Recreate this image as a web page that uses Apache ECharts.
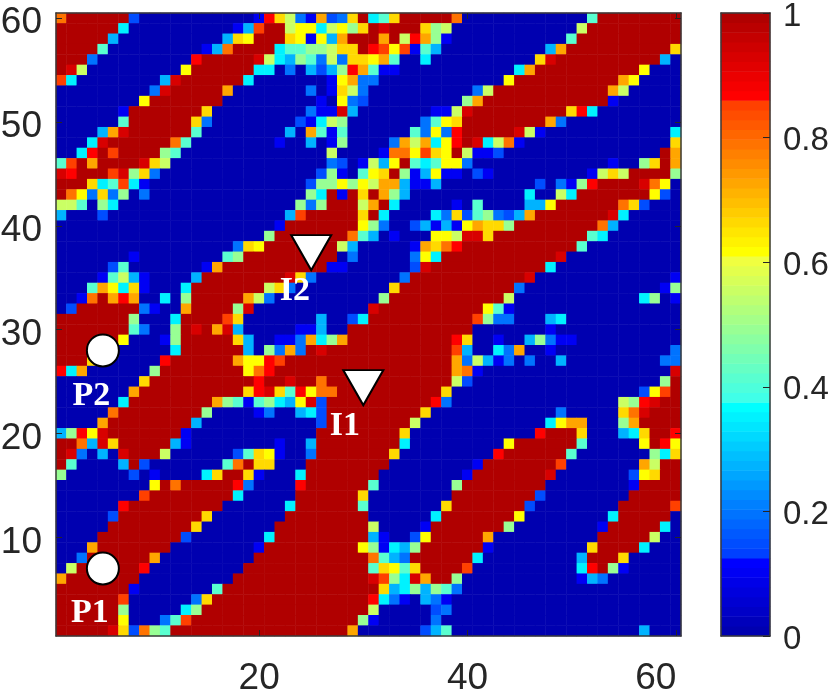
<!DOCTYPE html>
<html lang="en">
<head>
    <meta charset="UTF-8">
    <title>heatmap</title>
    <style>
        html, body { margin: 0; padding: 0; background: #fff; }
        #chart { width: 830px; height: 692px; }
    </style>
    <script src="https://cdn.jsdelivr.net/npm/echarts@6/dist/echarts.min.js"></script>
</head>
<body>
    <div id="chart"></div>
    <script>
        // cell values, one letter per colour step
        var levelValues = {
            a: 0.01, b: 0.1, c: 0.15, d: 0.2, e: 0.27, f: 0.35, g: 0.41, h: 0.49, i: 0.55,
            j: 0.62, k: 0.66, l: 0.73, m: 0.79, n: 0.85, o: 0.87, p: 0.93, q: 1
        };

        // top row (y = 60) first, run length coded: q6 = six cells of q
        var cellRows = [
            "m q6 c a11 b o k i d b l c d k q f g k q5 m a12 g q8",
            "q6 f a10 b e n q2 i j j f i j h k q p q3 k h i a12 i q9",
            "q5 e a10 e k j q3 k j b j e l q3 l q i o l h b a11 g q10",
            "q4 g a9 b e m q4 f g g h h i k k q o n j n b g e a10 e l q10 k",
            "q3 d a9 o q5 p i f e h g d i d k k j l g a2 f a10 k p q10 e a",
            "q p i a9 j q6 f f a d a e c e h o l g b b a11 f l q10 j a3",
            "n f a8 e p q6 f a7 b j l d d a12 j q10 l j a4",
            "a9 d p q5 l a7 d a b k i d a10 d i q11 l i a5",
            "a8 j q7 a9 b a j d c a9 h l q12 b a6",
            "a6 b q7 k a9 d b b p e a7 b b i p q9 k o f a8",
            "a6 g q6 k d a8 c b f i h a7 d g j k q8 l d a11",
            "a4 e l p q6 g a8 e a l g b g a6 g d j d o q5 p i b a12 f",
            "a3 f p q6 m g a8 b a2 e a b h a4 d l i l f j o q p f i m b a14 k",
            "a2 f o q n q4 h g a14 i a4 b m m j n k j q i b b c a15 q l",
            "g n q l q4 p k i a15 d c a b i e j q g f g j j d a13 b a2 h k q l",
            "p o q3 n p h k d a15 c h b a g j k q h b e j b b a c b a9 b i k i q4 h",
            "q3 k f g n f b a15 c h h j h j i l l e b b e a9 c a d b h o q4 p m j a",
            "q m j d k d h a d a15 h f q b q k q l h e a11 f a2 i f q7 j c a",
            "i2 g a h f a17 h d h q3 i l q f a5 b a g a4 e e j q6 m k c a3",
            "e a3 c a17 e n q5 k q f a4 f d k c g h d c e l q7 p f a5",
            "a21 b q7 j h d a2 c e b e b j l k k h q8 m e a6",
            "a20 h q7 m g e a b a3 j j i p p k q9 g f a7",
            "a17 d k j q7 i e a5 b l k m o q11 g a9",
            "a7 b a8 g h q9 a d a5 d j f q11 p a11",
            "a5 c g a7 b l q10 b b a6 c p q11 f a12",
            "a4 b g i e b a4 e q8 p k d a8 d q11 p a13 b",
            "a3 g l j f k b a3 f q7 i k d a9 k q11 d a13 b h",
            "a2 b m q l o l a2 f a h q5 l i d a10 h q11 i a12 f h a b",
            "a c q6 d b a2 l q4 h p a11 p q10 j g b a16",
            "q7 h a3 f q4 n k a7 e a2 c f q10 n h d d a3 e f a11",
            "q7 g d a2 h q p q l p e a5 b b e a2 q12 a7 b a12",
            "q6 j a3 b h q5 k e a2 b b d l f h l q10 o k a2 b a2 e h d b b a10",
            "q4 j a6 f q6 e a h d l d q p q12 n e a2 f d l a2 b a11 d",
            "q3 k a6 o q6 l j j o n q16 l d i e b d a d a2 e a9 d d",
            "o f l a6 h q8 j m o q17 l m b a18 p",
            "a8 k q10 o q2 p q2 m q12 i c a18 h q",
            "a7 l q10 k o p k g o j m m q10 k a18 c j n q",
            "a6 f q8 l h g b g h f e j p c q10 o d a16 i h o p q2",
            "a5 m q8 h a4 b d a2 e f c q9 k a12 d a5 k m p q3",
            "a4 l q8 e a11 c q8 i a12 f j l l a3 h l q4",
            "e h o j p q7 b a12 q8 k a12 o q3 k a3 e f k q2 o",
            "q2 m e p k q5 e b a8 b a2 e q8 f a9 j q6 g a5 j q o j",
            "q p d a e a p q3 i a6 c g k j b a2 d q7 k a9 o q6 g a7 h f k",
            "q g a4 e q c a7 g m q k k a3 q8 a8 b q7 n a7 l i q2",
            "h a6 c a b a4 f k q2 k b a3 f q7 a8 b q7 p a7 c j k q2",
            "a9 j q m q5 o d a4 o q6 g a7 h q8 a8 b q4",
            "a8 n q8 f a5 q6 k a8 q8 c a8 q5",
            "a6 o q9 a6 f q6 g a7 k q7 c a8 q5 n",
            "a5 c q8 k a7 q8 a6 f q7 j a8 f q5 a",
            "a5 q8 k a7 q9 i a4 b q7 h a8 b q5 f a",
            "a4 q8 c a7 f q9 e b a2 c j q5 l a10 q5 i a2",
            "a3 l q7 a8 b q9 j h b f e h q6 b a9 k q4 f a3",
            "a2 d q6 l a9 q11 m g e d q6 f a9 e q3 k a5",
            "a i q6 o a9 q12 g k j g k q4 n a10 f o q h b a5",
            "l q7 a9 q13 p n h f p l q2 h a11 b e d a7",
            "q7 b a7 g q15 k e f h e h g d a21",
            "q6 n a6 d k q15 o f d b a e d b a22",
            "q6 h a5 f h q16 i a5 c d a22",
            "q6 j a3 d g n q16 h b a5 d a23",
            "q5 p k c m h g q17 l a6 c e g a18 e a3"
        ];

        var gridSize = 60;
        var colorSteps = 64;

        // marked points, in cell numbers
        var circleNames = ["P1", "P2"];
        var circleX = [5, 5];
        var circleY = [7, 28];
        var triangleNames = ["I1", "I2"];
        var triangleX = [30, 25];
        var triangleY = [25, 38];

        var xTicks = [20, 40, 60];
        var yTicks = [10, 20, 30, 40, 50, 60];
        var barTicks = [0, 0.2, 0.4, 0.6, 0.8, 1];

        // colormap, four stretches with small jumps between them
        var mapStops = [
            [0, 7, [0, 0, 176], [0, 0, 255]],
            [8, 23, [0, 64, 255], [0, 255, 255]],
            [24, 38, [64, 255, 232], [240, 255, 64]],
            [39, 54, [255, 255, 0], [255, 64, 0]],
            [55, 63, [255, 0, 0], [176, 0, 0]]
        ];

        function buildColors() {
            var out = [];
            mapStops.forEach(function (s) {
                for (var i = s[0]; i <= s[1]; i++) {
                    var t = (i - s[0]) / (s[1] - s[0]);
                    var c = [0, 1, 2].map(function (k) {
                        return Math.round(s[2][k] + (s[3][k] - s[2][k]) * t);
                    });
                    out.push("rgb(" + c.join(",") + ")");
                }
            });
            return out;
        }

        var colors = buildColors();
        var pieces = colors.map(function (col, i) {
            var p = { gte: i / colorSteps, color: col };
            if (i === colorSteps - 1) p.lte = 1; else p.lt = (i + 1) / colorSteps;
            return p;
        });

        // expand the rows into [x, y, value]
        var cells = [];
        cellRows.forEach(function (row, r) {
            var c = 0;
            row.split(" ").forEach(function (tok) {
                var n = tok.length > 1 ? parseInt(tok.slice(1), 10) : 1;
                for (var i = 0; i < n; i++) {
                    cells.push([c, gridSize - 1 - r, levelValues[tok[0]]]);
                    c++;
                }
            });
            if (c !== gridSize) throw new Error("row " + r + " has " + c + " cells");
        });

        var barCells = colors.map(function (col, i) {
            return [0, i, (i + 0.5) / colorSteps];
        });

        var cats = [];
        for (var n = 1; n <= gridSize; n++) cats.push(String(n));
        var barCats = colors.map(function (col, i) { return String(i); });

        var lineStyle = { color: "#3a3a3a", width: 1.5 };
        var tickStyle = { color: "#262626", width: 1 };
        var axisFont = { fontFamily: "Liberation Sans", fontSize: 37, color: "#262626" };
        var barFont = { fontFamily: "Liberation Sans", fontSize: 33, color: "#262626" };
        var markFont = { fontFamily: "Liberation Serif", fontWeight: "bold", fontSize: 34, color: "#fff" };

        function hasTick(list) {
            return function (i) { return list.indexOf(i + 1) >= 0; };
        }

        function catAxis(grid, pos, list, data, extra) {
            var a = {
                type: "category", gridIndex: grid, position: pos, data: data, z: 5,
                boundaryGap: true,
                axisLine: { show: true, onZero: false, lineStyle: lineStyle },
                axisTick: list ? { show: true, inside: true, length: 6, alignWithLabel: true, interval: hasTick(list), lineStyle: tickStyle } : { show: false },
                axisLabel: { show: false },
                splitLine: { show: false }
            };
            return Object.assign(a, extra || {});
        }

        var myChart = echarts.init(document.getElementById("chart"), null, { renderer: "canvas" });

        var option = {
            animation: false,
            backgroundColor: "#fff",
            grid: [
                { left: 56, top: 13, width: 625, height: 623, outerBoundsMode: "none" },
                { left: 721, top: 13, width: 49, height: 623, outerBoundsMode: "none" }
            ],
            visualMap: {
                type: "piecewise", show: false, seriesIndex: [0, 1], pieces: pieces
            },
            xAxis: [
                catAxis(0, "bottom", xTicks, cats, {
                    axisLabel: Object.assign({
                        show: true, margin: 24, interval: hasTick(xTicks),
                        formatter: function (v) { return v === "60" ? "{last|60}" : v; },
                        rich: { last: Object.assign({ padding: [0, 40, 0, 0] }, axisFont) }
                    }, axisFont)
                }),
                catAxis(0, "top", xTicks, cats),
                catAxis(1, "bottom", null, ["bar"]),
                catAxis(1, "top", null, ["bar"])
            ],
            yAxis: [
                catAxis(0, "left", yTicks, cats, {
                    axisLabel: Object.assign({
                        show: true, margin: 14, interval: hasTick(yTicks),
                        formatter: function (v) { return "{low|" + v + "}"; },
                        rich: { low: Object.assign({ padding: [10, 0, 0, 0] }, axisFont) }
                    }, axisFont)
                }),
                catAxis(0, "right", yTicks, cats),
                catAxis(1, "left", null, barCats),
                {
                    type: "value", gridIndex: 1, position: "right", min: 0, max: 1, interval: 0.2, z: 5,
                    axisLine: { show: true, onZero: false, lineStyle: lineStyle },
                    axisTick: { show: true, inside: true, length: 7, lineStyle: tickStyle },
                    axisLabel: Object.assign({
                        show: true, margin: 13,
                        customValues: barTicks,
                        formatter: function (v) { return "{low|" + v + "}"; },
                        rich: { low: Object.assign({ padding: [7, 0, 0, 0] }, barFont) }
                    }, barFont),
                    splitLine: { show: false }
                }
            ],
            series: [
                {
                    type: "heatmap", xAxisIndex: 0, yAxisIndex: 0, data: cells,
                    progressive: 0, itemStyle: { borderWidth: 0 }, emphasis: { disabled: true }
                },
                {
                    type: "heatmap", xAxisIndex: 2, yAxisIndex: 2, data: barCells,
                    progressive: 0, itemStyle: { borderWidth: 0 }, emphasis: { disabled: true }
                },
                {
                    type: "scatter", xAxisIndex: 0, yAxisIndex: 0, z: 10, silent: true,
                    symbol: "circle", symbolSize: 32,
                    itemStyle: { color: "#fff", opacity: 1, borderColor: "#000", borderWidth: 2 },
                    label: Object.assign({ show: true, position: "inside", formatter: "{b}" }, markFont),
                    data: circleNames.map(function (name, i) {
                        return {
                            name: name,
                            value: [circleX[i] - 1, circleY[i] - 1],
                            label: { offset: i === 0 ? [-13, 45] : [-11.5, 45.5] }
                        };
                    })
                },
                {
                    type: "scatter", xAxisIndex: 0, yAxisIndex: 0, z: 10, silent: true,
                    symbol: "path://M0 0H41L20.5 36Z", symbolKeepAspect: false,
                    symbolSize: [40, 35], symbolOffset: [0, 6],
                    itemStyle: { color: "#fff", opacity: 1, borderColor: "#000", borderWidth: 2 },
                    label: Object.assign({ show: true, position: "inside", formatter: "{b}" }, markFont),
                    data: triangleNames.map(function (name, i) {
                        return {
                            name: name,
                            value: [triangleX[i] - 1, triangleY[i] - 1],
                            label: { offset: i === 0 ? [-18.5, 38.8] : [-16.3, 38.8] }
                        };
                    })
                }
            ]
        };

        myChart.setOption(option);
    </script>
</body>
</html>
